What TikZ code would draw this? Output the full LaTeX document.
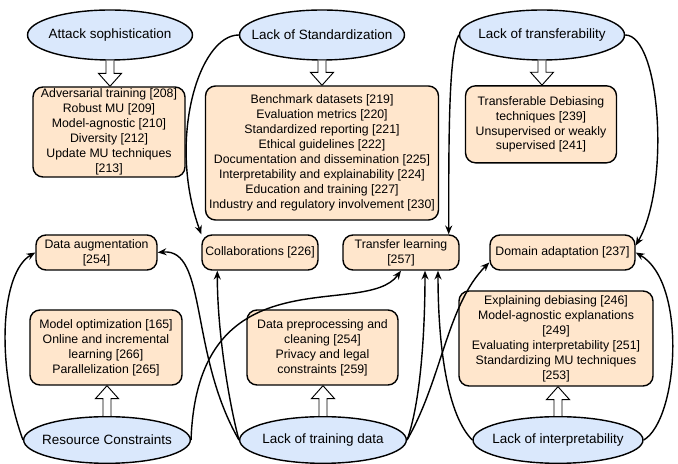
\documentclass[tikz,border=0pt]{standalone}
\usepackage{fontspec}
\setmainfont{Liberation Sans}
\usetikzlibrary{arrows.meta, shapes.geometric, calc}
\definecolor{peach}{HTML}{FFE6CC}
\definecolor{skyblue}{HTML}{DAE8FC}

\begin{document}
\begin{tikzpicture}

\tikzset{
cause/.style = {ellipse, draw, fill = skyblue, line width = 1.2pt, minimum width = 4.95cm, minimum height = 1.5cm, inner xsep = -0.9cm, inner ysep = 0pt, font = \fontsize{11.5}{13}\selectfont},
remedy/.style = {rectangle, rounded corners = 0.3cm, draw, fill = peach, line width = 1.2pt, align = center, inner sep = 1pt, font = \fontsize{10.5}{12.8}\selectfont},
link/.style = {-{Stealth[length = 7.5pt, width = 6pt]}, line width = 1.2pt},
hollow/.style = {draw, fill = white, line width = 0.8pt, to path = {
  let \p1 = (\tikztostart), \p2 = (\tikztotarget),
      \n1 = {ifthenelse(\y2 > \y1, \y2 - 11pt, \y2 + 11pt)} in
  (\x1 - 3.4pt, \y1) -- (\x1 - 3.4pt, \n1 * 1pt) -- (\x1 - 9.8pt, \n1 * 1pt) -- (\x1, \y2)
  -- (\x1 + 9.8pt, \n1 * 1pt) -- (\x1 + 3.4pt, \n1 * 1pt) -- (\x1 + 3.4pt, \y1)}},
	}

\useasboundingbox (0, 0) rectangle (20.34, 13.92);

% Challenges
\node at (3.30, 12.87) [cause] (AS) {Attack sophistication};
\node at (9.66, 12.87) [cause] (LS) {Lack of Standardization};
\node at (16.26, 12.87) [cause] (LT) {Lack of transferability};
\node at (3.21, 0.72) [cause, minimum width = 5cm, minimum height = 1.4cm] (RC) {Resource Constraints};
\node at (9.69, 0.72) [cause, minimum width = 5cm, minimum height = 1.4cm] (LTD) {Lack of training data};
\node at (16.74, 0.72) [cause, minimum width = 5.1cm, minimum height = 1.4cm] (LI) {Lack of interpretability};

% Solutions
\node at (3.27, 9.96) [remedy, minimum width = 4.56cm, minimum height = 2.7cm] (ASbox) {Adversarial training [208]\\Robust MU [209]\\Model-agnostic [210]\\Diversity [212]\\Update MU techniques\\{}[213]};
\node at (9.66, 9.33) [remedy, minimum width = 6.99cm, minimum height = 4.02cm] (LSbox) {Benchmark datasets [219]\\Evaluation metrics [220]\\Standardized reporting [221]\\Ethical guidelines [222]\\Documentation and dissemination [225]\\Interpretability and explainability [224]\\Education and training [227]\\Industry and regulatory involvement [230]};
\node at (16.23, 10.19) [remedy, minimum width = 4.53cm, minimum height = 2.31cm] (LTbox) {Transferable Debiasing\\techniques [239]\\Unsupervised or weakly\\supervised [241]};
\node at (3.18, 3.495) [remedy, minimum width = 4.56cm, minimum height = 2.25cm] (RCbox) {Model optimization [165]\\Online and incremental\\learning [266]\\Parallelization [265]};
\node at (9.675, 3.495) [remedy, minimum width = 4.53cm, minimum height = 2.25cm] (LTDbox) {Data preprocessing and\\cleaning [254]\\Privacy and legal\\constraints [259]};
\node at (16.68, 3.765) [remedy, minimum width = 5.82cm, minimum height = 2.85cm] (LIbox) {Explaining debiasing [246]\\Model-agnostic explanations\\{}[249]\\Evaluating interpretability [251]\\Standardizing MU techniques\\{}[253]};

% Shared solutions
\node at (2.895, 6.345) [remedy, minimum width = 3.63cm, minimum height = 1.05cm] (DA) {Data augmentation\\{}[254]};
\node at (7.8, 6.345) [remedy, minimum width = 3.48cm, minimum height = 1.05cm] (Collab) {Collaborations [226]};
\node at (12.03, 6.345) [remedy, minimum width = 3.48cm, minimum height = 1.05cm] (TL) {Transfer learning\\{}[257]};
\node at (16.875, 6.345) [remedy, minimum width = 4.35cm, minimum height = 1.05cm] (DomA) {Domain adaptation [237]};

% Block arrows
\draw [hollow] (AS.south) to (ASbox.north);
\draw [hollow] (LS.south) to (LSbox.north);
\draw [hollow] (LT.south) to (LTbox.north);
\draw [hollow] (RC.north) to (RCbox.south);
\draw [hollow] (LTD.north) to (LTDbox.south);
\draw [hollow] (LI.north) to (LIbox.south);

% Links
\path [link] (LS.west) edge [out = 180, in = 110, out distance = 1.2cm, in distance = 3cm] (Collab.north west);
\path [link] (LT.west) edge [out = 240, in = 90, out distance = 0.6cm, in distance = 3cm] ([xshift = -0.33cm]TL.north east);
\path [link] (LT.east) edge [out = 0, in = 60, out distance = 1.05cm, in distance = 2.1cm] ([yshift = 0.21cm]DomA.east);
\path [link] (RC.west) edge [out = 110, in = 210, out distance = 2.4cm, in distance = 1.2cm] (DA.west);
\path [link] (RC.east) edge [out = 88, in = 234, out distance = 5.7cm, in distance = 1.85cm] (TL.south);
\path [link] (LTD.west) edge [out = 120, in = 5, out distance = 3cm, in distance = 1.5cm] (DA.east);
\path [link] (LTD.west) edge [out = 105, in = 270, out distance = 1.2cm, in distance = 1.8cm] ([xshift = 0.48cm]Collab.south west);
\path [link] (LTD.east) edge [out = 70, in = 270, out distance = 1.2cm, in distance = 1.8cm] ([xshift = 0.72cm]TL.south);
\path [link] (LTD.east) edge [out = 60, in = 225, out distance = 2.1cm, in distance = 1.8cm] ([yshift = -0.3cm]DomA.west);
\path [link] (LI.west) edge [out = 135, in = 270, out distance = 1.2cm, in distance = 1.8cm] ([xshift = 1.11cm]TL.south);
\path [link] (LI.east) edge [out = 30, in = 330, out distance = 1.2cm, in distance = 1.8cm] (DomA.east);

\end{tikzpicture}
\end{document}
